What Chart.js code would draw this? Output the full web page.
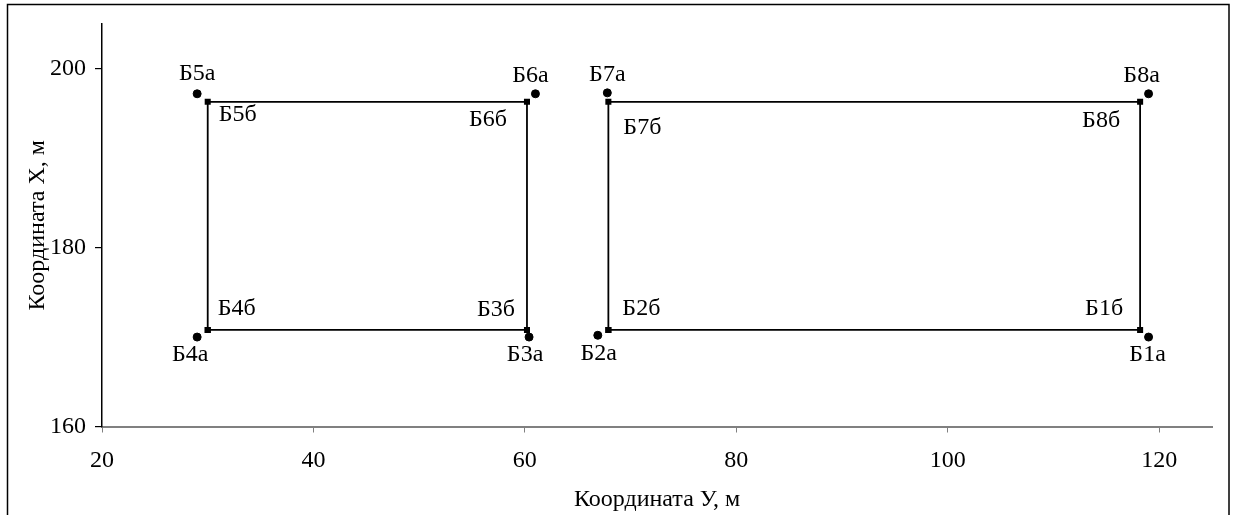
<!DOCTYPE html>
<html>
<head>
<meta charset="utf-8">
<script src="https://cdn.jsdelivr.net/npm/chart.js@4/dist/chart.umd.min.js"></script>
<style>
  html, body { margin: 0; padding: 0; background: #fff; }
  #wrap { width: 1235px; height: 515px; position: relative; }
</style>
</head>
<body>
<div id="wrap"><canvas id="c" width="1235" height="515"></canvas></div>
<script>
// Outer benchmarks ("а"): coordinates Y (east) and X (north), m
const outerNames = ['Б1а', 'Б2а', 'Б3а', 'Б4а', 'Б5а', 'Б6а', 'Б7а', 'Б8а'];
const outerY = [119.0, 66.9, 60.4, 29.0, 29.0, 61.0, 67.8, 119.0];
const outerX = [170.0, 170.2, 170.0, 170.0, 197.2, 197.2, 197.3, 197.2];

// Building corner points ("б")
const cornerNames = ['Б1б', 'Б2б', 'Б3б', 'Б4б', 'Б5б', 'Б6б', 'Б7б', 'Б8б'];
const cornerY = [118.2, 67.9, 60.2, 30.0, 30.0, 60.2, 67.9, 118.2];
const cornerX = [170.8, 170.8, 170.8, 170.8, 196.3, 196.3, 196.3, 196.3];

// Contour order of each building (indices into the corner arrays)
const building1 = [3, 2, 5, 4, 3];
const building2 = [1, 0, 7, 6, 1];

// Axis ticks
const yTicks = [20, 40, 60, 80, 100, 120];
const xTicks = [160, 180, 200];

const FONT = 'Liberation Serif, "Times New Roman", serif';
const FSIZE = 24;

function contour(order) {
  return order.map(i => ({ x: cornerY[i], y: cornerX[i] }));
}

// Label placement around each mark: [dx, dy, align]
const labelPlace = {
  'Б1а': [-1, 18, 'center'], 'Б2а': [1, 18, 'center'], 'Б3а': [-4, 18, 'center'], 'Б4а': [-7, 18, 'center'],
  'Б5а': [0, -20, 'center'], 'Б6а': [-5, -18, 'center'], 'Б7а': [0, -18, 'center'], 'Б8а': [-7, -18, 'center'],
  'Б1б': [-17, -21, 'right'], 'Б2б': [14, -21, 'left'], 'Б3б': [-12, -20, 'right'], 'Б4б': [10, -21, 'left'],
  'Б5б': [11, 13, 'left'], 'Б6б': [-20, 18, 'right'], 'Б7б': [15, 26, 'left'], 'Б8б': [-20, 19, 'right']
};

const pointLabels = {
  id: 'pointLabels',
  afterDatasetsDraw(chart) {
    const { ctx, scales: { x, y } } = chart;
    ctx.save();
    ctx.fillStyle = '#000';
    ctx.font = FSIZE + 'px ' + FONT;
    ctx.textBaseline = 'middle';
    const draw = (name, vx, vy) => {
      const p = labelPlace[name];
      ctx.textAlign = p[2];
      ctx.fillText(name, x.getPixelForValue(vx) + p[0], y.getPixelForValue(vy) + p[1]);
    };
    outerNames.forEach((n, i) => draw(n, outerY[i], outerX[i]));
    cornerNames.forEach((n, i) => draw(n, cornerY[i], cornerX[i]));
    ctx.restore();
  }
};

const frame = {
  id: 'frame',
  afterDraw(chart) {
    const ctx = chart.ctx;
    ctx.save();
    ctx.strokeStyle = '#000';
    ctx.lineWidth = 1.5;
    ctx.strokeRect(7.5, 4.5, 1221.5, 530);
    ctx.restore();
  }
};

new Chart(document.getElementById('c'), {
  type: 'scatter',
  data: {
    datasets: [
      {
        data: contour(building1), showLine: true, borderColor: '#000', borderWidth: 1.8,
        pointStyle: 'rect', pointRadius: 3, backgroundColor: '#000', pointBorderColor: '#000', tension: 0
      },
      {
        data: contour(building2), showLine: true, borderColor: '#000', borderWidth: 1.8,
        pointStyle: 'rect', pointRadius: 3, backgroundColor: '#000', pointBorderColor: '#000', tension: 0
      },
      {
        data: outerY.map((v, i) => ({ x: v, y: outerX[i] })), showLine: false,
        pointStyle: 'circle', pointRadius: 4, backgroundColor: '#000', borderColor: '#000'
      }
    ]
  },
  options: {
    responsive: false,
    animation: false,
    layout: { padding: { left: 0, top: 24, right: 23, bottom: 0 } },
    plugins: { legend: { display: false }, tooltip: { enabled: false } },
    scales: {
      x: {
        type: 'linear', min: 20, max: 125,
        afterFit(s) { s.height = 88.5; },
        afterBuildTicks(s) { s.ticks = yTicks.map(v => ({ value: v })); },
        border: { color: '#808080', width: 2 },
        grid: { drawOnChartArea: false, drawTicks: true, tickLength: 6, color: '#808080', lineWidth: 1 },
        ticks: { color: '#000', padding: 14, font: { family: FONT, size: FSIZE }, maxRotation: 0 },
        title: { display: true, text: 'Координата У, м', color: '#000', font: { family: FONT, size: FSIZE }, padding: { top: 0, bottom: 0.5 } }
      },
      y: {
        type: 'linear', min: 160, max: 205,
        afterFit(s) { s.width = 102; },
        afterBuildTicks(s) { s.ticks = xTicks.map(v => ({ value: v })); },
        border: { color: '#000', width: 1.5 },
        grid: { drawOnChartArea: false, drawTicks: true, tickLength: 7, color: '#000', lineWidth: 1.2 },
        ticks: { color: '#000', padding: 9, font: { family: FONT, size: FSIZE } },
        title: { display: true, text: 'Координата Х, м', color: '#000', font: { family: FONT, size: FSIZE }, padding: { top: 23.5, bottom: 0 } }
      }
    }
  },
  plugins: [pointLabels, frame]
});
</script>
</body>
</html>
